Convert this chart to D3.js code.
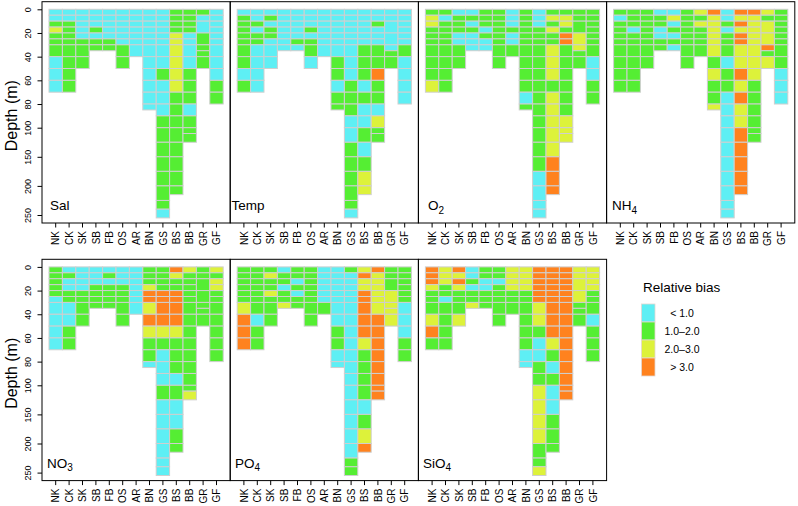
<!DOCTYPE html>
<html><head><meta charset="utf-8">
<script src="https://cdn.jsdelivr.net/npm/d3@7"></script>
<style>body{margin:0;background:#fff} text{font-family:"Liberation Sans",Arial,Helvetica,sans-serif;fill:#000}</style>
</head><body><svg id="c" width="798" height="506"></svg>
<script>
// ---- data ----
const stations = ["NK","CK","SK","SB","FB","OS","AR","BN","GS","BS","BB","GR","GF"];
// depth bin edges (m) for each station, in station order
const stationEdges = [
  [0,5,10,15,20,25,30,40,50,60,70],
  [0,5,10,15,20,25,30,40,50,60,70],
  [0,5,10,15,20,25,30,40,50],
  [0,5,10,15,20,25,30,35],
  [0,5,10,15,20,25,30,35],
  [0,5,10,15,20,25,30,40,50],
  [0,5,10,15,20,25,30,40],
  [0,5,10,15,20,25,30,40,50,60,70,80,85],
  [0,5,10,15,20,25,30,40,50,60,70,80,90,100,125,150,175,200,225,240,255],
  [0,5,10,15,20,25,30,40,50,60,70,80,90,100,125,150,175,200,215],
  [0,5,10,15,20,25,30,40,50,60,70,80,90,100,110,125],
  [0,5,10,20,30,35,40,50],
  [0,5,10,15,20,25,30,40,50,60,70,80]
];
const depthTicks = [0,20,40,60,80,100,150,200,250];
// bias classes: c = <1.0, g = 1.0-2.0, y = 2.0-3.0, o = >3.0 (one letter per depth bin, top to bottom)
const biasClasses = ["c","g","y","o"];
const biasLabels = ["< 1.0","1.0\u20132.0","2.0\u20133.0","> 3.0"];

const sal = ["ccgygggccc","ccgggggggg","cccccggg","cccgcgg","cccccgg","ccccccgg","ccccccc",
  "cccccccccccc","cccccc ccgcccg ggggggc","ggggyy yyyyggg ggggg","ggggcc ccgggcg gg","gccgggg","cccccc cccgg"];
const temp = ["cgggggggcg","ccgcggcccc","cgcggccc","ccccccc","cccccgc","cccgcggc","ccccccc",
  "cccccc cggcgg","cccccc cccgggc cgggggc","cccccc gggcgcc gcgyy","ccgccc ggoggcy gg","cccccgg","cccccc gcccc"];
const o2 = ["gyyggggggy","gcgggggggg","cgggccgg","cgcgccc","gggcgcc","gggggggg","cccgccg",
  "gggggg ggggcg","cccggg ggggggg gggcccc","gygygg yyygyyy yyooo","gyygoo ggggggy yy","gggyygg","gggggg gccgg"];
const nh4 = ["gcgggggggg","gggcgggggg","gggggggg","cggccgg","cycgcgc","gggggggg","ygygggg",
  "oyyyyy ygyggy","ccgcgg gcggccc ccccccc","oyoyoo yyoyoyy ooooo","oyyyyy yyygggg gg","ygyyogy","gggggg ggccc"];
const no3 = ["gggggc cccc","cgccgg ccgg","ccccgggg","cccgggg","cgcgggg","cccggggg","ccccccc",
  "gggyoo yoyggc","ggggoo ooygccc gcccccc","oyggoo ooygggc gccgg","yggggg ggggggg gy","ggggggg","ygyygg ggggg"];
const po4 = ["gggggg yooo","gggggg gcgg","gyggyggg","cggcggy","ggcgcgg","gggggggg","ccccccg",
  "cccccc ccggcc","gccccc ccccccc cccccgg","yoyyoo oooyggg gcgyo","oyyyyy yoooooo oo","gggyyyy","gggggg cccgg"];
const sio4 = ["oooygg gyog","yyyggc gggg","oyoygggy","ccgcggy","ggccggg","ggcggggg","yyyyggg",
  "yyyygg ggggcc","oooooo yygccgg yyyyggy","oooooo oooygcg ccggg","oooooo ooooooo oo","yyyyggg","yyyygg gcggg"];

// ---- styling / layout ----
const fillOf = {c:"#5eeff4", g:"#55ee33", y:"#ddf23a", o:"#ff821e"};
const colLeft = [42, 230.2, 418.4, 606.6], frameW = 188.2;
const rowTop = [1.7, 259.3], frameH = 221.3;

const panels = [
  {main:"Sal", sub:"", data:sal, c:0, r:0, lx:50},
  {main:"Temp", sub:"", data:temp, c:1, r:0, lx:231.6},
  {main:"O", sub:"2", data:o2, c:2, r:0, lx:428},
  {main:"NH", sub:"4", data:nh4, c:3, r:0, lx:612},
  {main:"NO", sub:"3", data:no3, c:0, r:1, lx:47},
  {main:"PO", sub:"4", data:po4, c:1, r:1, lx:235},
  {main:"SiO", sub:"4", data:sio4, c:2, r:1, lx:423}
];

const svg = d3.select("#c");

panels.forEach(p => {
  const L = colLeft[p.c], T = rowTop[p.r];
  const x = d3.scaleBand().domain(stations).range([L + 7, L + frameW - 7]).padding(0);
  const y = d3.scaleLinear().domain([0, 100, 250]).range([T + 7.6, T + 126, T + 213.3]);
  const g = svg.append("g");

  stations.forEach((st, i) => {
    const codes = p.data[i].replace(/ /g, "").split("");
    const edges = stationEdges[i];
    const cells = codes.map((k, j) => ({k, d0: edges[j], d1: edges[j + 1]}));
    g.selectAll(null).data(cells).enter().append("rect")
      .attr("x", x(st)).attr("width", x.bandwidth())
      .attr("y", d => y(d.d0)).attr("height", d => y(d.d1) - y(d.d0))
      .attr("fill", d => fillOf[d.k])
      .attr("stroke", "#cfcfcf").attr("stroke-width", 1);
  });

  // frame
  g.append("rect").attr("x", L).attr("y", T).attr("width", frameW).attr("height", frameH)
    .attr("fill", "none").attr("stroke", "#000").attr("stroke-width", 1);

  // x axis
  const xa = g.append("g").attr("transform", `translate(0,${T + frameH})`)
    .call(d3.axisBottom(x).tickSize(4.5).tickPadding(0));
  xa.select(".domain").remove();
  xa.selectAll(".tick line").attr("stroke", "#000");
  xa.selectAll(".tick text")
    .attr("transform", "translate(0,8) rotate(-90)")
    .attr("text-anchor", "end").attr("x", 0).attr("y", 0).attr("dy", "0.36em")
    .style("font-size", "10px").style("font-family", '"Liberation Sans",Arial,sans-serif');

  // y axis on left panels
  if (p.c === 0) {
    const ya = g.append("g").attr("transform", `translate(${L},0)`)
      .call(d3.axisLeft(y).tickValues(depthTicks).tickSize(4.5).tickPadding(0));
    ya.select(".domain").remove();
    ya.selectAll(".tick line").attr("stroke", "#000");
    ya.selectAll(".tick text")
      .attr("transform", "translate(-11,0) rotate(-90)")
      .attr("text-anchor", "middle").attr("x", 0).attr("y", 0).attr("dy", 0)
      .style("font-size", "9px").style("font-family", '"Liberation Sans",Arial,sans-serif');
    g.append("text").attr("transform", `translate(17,${T + 114}) rotate(-90)`)
      .attr("text-anchor", "middle").style("font-size", "16px").text("Depth (m)");
  }

  // panel label
  const t = g.append("text").attr("x", p.lx).attr("y", T + 208.5).style("font-size", "13.5px");
  t.append("tspan").text(p.main);
  if (p.sub) t.append("tspan").attr("dy", 3.5).style("font-size", "10px").text(p.sub);
});

// legend
const lg = svg.append("g");
lg.append("text").attr("x", 643).attr("y", 292).style("font-size", "13.5px").text("Relative bias");
const ly = d3.scaleBand().domain(biasClasses).range([304, 376]).padding(0);
lg.selectAll("rect.sw").data(biasClasses).enter().append("rect")
  .attr("x", 641.5).attr("width", 13.5)
  .attr("y", d => ly(d)).attr("height", ly.bandwidth())
  .attr("fill", d => fillOf[d]).attr("stroke", "#e4d8d0").attr("stroke-width", 0.8);
lg.selectAll("text.lab").data(biasClasses).enter().append("text")
  .attr("x", 682).attr("y", d => ly(d) + ly.bandwidth() / 2).attr("dy", "0.35em")
  .attr("text-anchor", "middle").style("font-size", "10.5px")
  .text((d, i) => biasLabels[i]);
</script></body></html>
